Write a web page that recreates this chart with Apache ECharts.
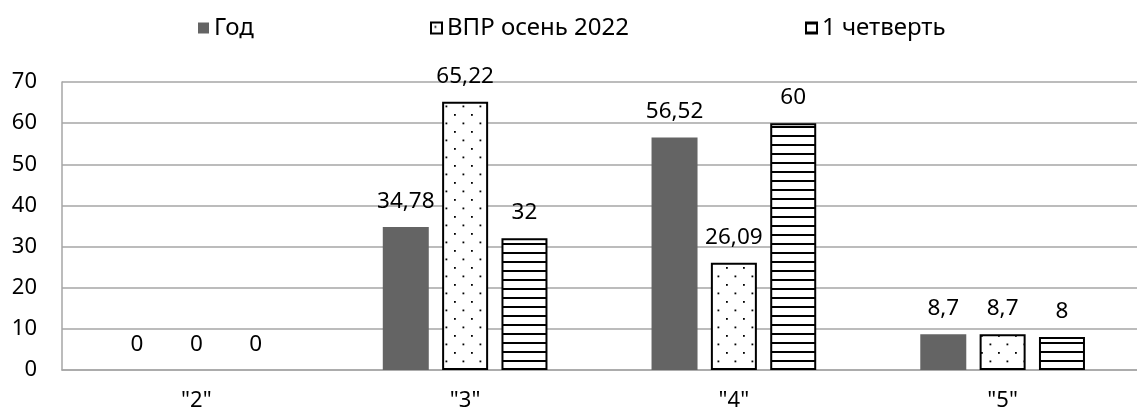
<!DOCTYPE html>
<html><head><meta charset="utf-8">
<script src="https://cdn.jsdelivr.net/npm/echarts@6/dist/echarts.min.js"></script>
<style>html,body{margin:0;padding:0;background:#fff}#c{width:1137px;height:414px}</style>
</head><body><div id="c"></div>
<script>
// ---- data ----
const categories = ['"2"', '"3"', '"4"', '"5"'];
const seriesNames = ['Год', 'ВПР осень 2022', '1 четверть'];
const yearValues = [0, 34.78, 56.52, 8.7];
const vprValues = [0, 65.22, 26.09, 8.7];
const quarterValues = [0, 32, 60, 8];
const yMin = 0, yMax = 70, yStep = 10;

// ---- patterns ----
function dotPattern() {
  const c = document.createElement('canvas');
  c.width = 17; c.height = 17;
  const g = c.getContext('2d');
  g.fillStyle = '#fff'; g.fillRect(0, 0, 17, 17);
  g.fillStyle = '#000';
  g.fillRect(3.5, 3.5, 1.8, 1.8);
  g.fillRect(12, 12, 1.8, 1.8);
  return c;
}
function stripePattern() {
  const c = document.createElement('canvas');
  c.width = 4; c.height = 9;
  const g = c.getContext('2d');
  g.fillStyle = '#fff'; g.fillRect(0, 0, 4, 9);
  g.fillStyle = '#000'; g.fillRect(0, 0, 4, 2);
  return c;
}
// zero-height bars show no outline
const noZeroBorder = arr => arr.map(v => v === 0 ? { value: v, itemStyle: { borderWidth: 0 } } : v);

const FONT = 'Noto Sans';
const fmt = p => String(p.value).replace('.', ',');
const labelCfg = { show: true, position: 'top', distance: 14, color: '#000', fontFamily: FONT, fontSize: 22.5, formatter: fmt };

const chart = echarts.init(document.getElementById('c'), null, { renderer: 'canvas' });
const legendBase = { top: 11, itemWidth: 11, itemHeight: 11, icon: 'rect', itemGap: 0,
  textStyle: { fontFamily: FONT, fontSize: 24, color: '#000', padding: [0, 0, 0, 0] } };
chart.setOption({
  animation: false,
  backgroundColor: '#fff',
  legend: [
    Object.assign({}, legendBase, { data: [seriesNames[0]], left: 193 }),
    Object.assign({}, legendBase, { data: [seriesNames[1]], left: 425 }),
    Object.assign({}, legendBase, { data: [seriesNames[2]], left: 800 })
  ],
  grid: { left: 62, right: -4, top: 82, bottom: 44, containLabel: false },
  xAxis: {
    type: 'category', data: categories,
    axisLine: { show: true, lineStyle: { color: '#a6a6a6', width: 1.5 } },
    axisTick: { show: false },
    axisLabel: { color: '#000', fontFamily: FONT, fontSize: 22, margin: 20 }
  },
  yAxis: {
    type: 'value', min: yMin, max: yMax, interval: yStep,
    axisLine: { show: true, lineStyle: { color: '#a6a6a6', width: 1.5 } },
    axisTick: { show: false },
    splitLine: { lineStyle: { color: '#a6a6a6', width: 1.5 } },
    axisLabel: { color: '#000', fontFamily: FONT, fontSize: 22, margin: 25 }
  },
  series: [
    { name: seriesNames[0], type: 'bar', data: yearValues, barWidth: 46, barGap: '29%',
      itemStyle: { color: '#646464' }, label: labelCfg },
    { name: seriesNames[1], type: 'bar', data: noZeroBorder(vprValues), barWidth: 46, barGap: '29%',
      itemStyle: { color: { image: dotPattern(), repeat: 'repeat' }, borderColor: '#000', borderWidth: 2 }, label: labelCfg },
    { name: seriesNames[2], type: 'bar', data: noZeroBorder(quarterValues), barWidth: 46, barGap: '29%',
      itemStyle: { color: { image: stripePattern(), repeat: 'repeat' }, borderColor: '#000', borderWidth: 2 }, label: labelCfg }
  ]
});
</script></body></html>
